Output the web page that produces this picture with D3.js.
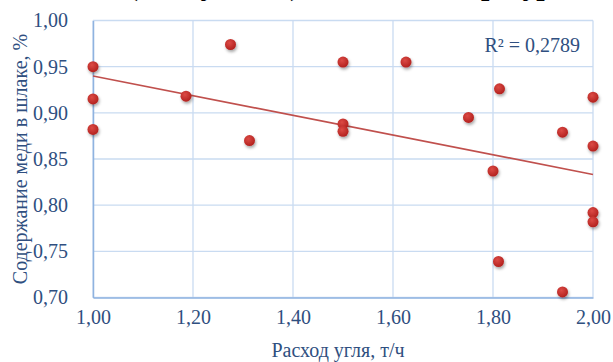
<!DOCTYPE html>
<html>
<head>
<meta charset="utf-8">
<script src="https://cdn.jsdelivr.net/npm/d3@7/dist/d3.min.js"></script>
<style>
  html, body { margin: 0; padding: 0; background: #fff; }
  svg { display: block; }
  svg text { font-family: "Liberation Serif", "Times New Roman", serif; }
</style>
</head>
<body>
<svg id="chart" width="613" height="362"></svg>
<script>
// Coal consumption (t/h) vs copper content in slag (%)
const coalRate = [1.00, 1.00, 1.00, 1.275, 1.186, 1.313, 1.50, 1.50, 1.50, 1.626,
                  1.813, 2.00, 1.751, 1.939, 2.00, 1.80, 2.00, 2.00, 1.811, 1.939];
const copperInSlag = [0.950, 0.915, 0.882, 0.974, 0.918, 0.870, 0.955, 0.888, 0.880, 0.955,
                      0.926, 0.917, 0.895, 0.879, 0.864, 0.837, 0.792, 0.782, 0.739, 0.706];
const xTicks = [1.00, 1.20, 1.40, 1.60, 1.80, 2.00];
const yTicks = [0.70, 0.75, 0.80, 0.85, 0.90, 0.95, 1.00];
const xTitle = "Расход угля, т/ч";
const yTitle = "Содержание меди в шлаке, %";
const r2Label = "R² = 0,2789";
const headerParts = ["(по углю)", "от температуры"];

const svg = d3.select("#chart");
const margin = { left: 93, right: 20, top: 20.5, bottom: 64.5 };
const W = 613, H = 362;

const x = d3.scaleLinear().domain([1.0, 2.0]).range([margin.left, W - margin.right]);
const y = d3.scaleLinear().domain([0.70, 1.00]).range([H - margin.bottom, margin.top]);

const fmt = d => d.toFixed(2).replace(".", ",");
const serif = "'Liberation Serif', 'Times New Roman', serif";
const labelColor = "#2f4f80";

// header line above the plot, mostly outside the visible area
const header = svg.append("g")
  .style("font-family", serif).style("font-size", "30px").style("font-weight", "bold");
header.append("text").attr("x", 128).attr("y", -5.5)
  .attr("textLength", 172).attr("lengthAdjust", "spacing").text(headerParts[0]);
header.append("text").attr("x", 375).attr("y", -5.5)
  .attr("textLength", 200).attr("lengthAdjust", "spacing").text(headerParts[1]);

const defs = svg.append("defs");
const grad = defs.append("radialGradient").attr("id", "dotFill")
  .attr("cx", "40%").attr("cy", "35%").attr("r", "65%");
grad.append("stop").attr("offset", "0%").attr("stop-color", "#dc4a45");
grad.append("stop").attr("offset", "100%").attr("stop-color", "#b3221f");
const shadow = defs.append("filter").attr("id", "dotShadow")
  .attr("x", "-50%").attr("y", "-50%").attr("width", "200%").attr("height", "200%");
shadow.append("feDropShadow").attr("dx", 1).attr("dy", 2).attr("stdDeviation", 1.4)
  .attr("flood-color", "#000").attr("flood-opacity", 0.35);

// gridlines
const grid = svg.append("g");
grid.selectAll("line.h").data(yTicks).join("line")
  .attr("x1", x(1.0)).attr("x2", x(2.0))
  .attr("y1", d => y(d)).attr("y2", d => y(d))
  .attr("stroke", "#c9dbf1").attr("stroke-width", 1.3);
grid.selectAll("line.v").data(xTicks).join("line")
  .attr("y1", y(0.70)).attr("y2", y(1.00))
  .attr("x1", d => x(d)).attr("x2", d => x(d))
  .attr("stroke", "#c9dbf1").attr("stroke-width", 1.3);

// axes
const xAxis = d3.axisBottom(x).tickValues(xTicks).tickFormat(fmt).tickSize(0).tickPadding(12);
const yAxis = d3.axisLeft(y).tickValues(yTicks).tickFormat(fmt).tickSize(0).tickPadding(30);

const gx = svg.append("g").attr("transform", `translate(0,${y(0.70)})`).call(xAxis);
const gy = svg.append("g").attr("transform", `translate(${x(1.0)},0)`).call(yAxis);
[gx, gy].forEach(g => {
  g.attr("font-family", null).attr("font-size", null);
  g.select(".domain").attr("stroke", "#8fb3e0").attr("stroke-width", 1.5);
  g.selectAll("text").style("font-family", serif).style("font-size", "20px").attr("fill", labelColor);
});
gy.selectAll("text").attr("text-anchor", "start").attr("x", -60);

// linear trend computed from the data
const mx = d3.mean(coalRate), my = d3.mean(copperInSlag);
const sxy = d3.sum(coalRate, (v, i) => (v - mx) * (copperInSlag[i] - my));
const sxx = d3.sum(coalRate, v => (v - mx) ** 2);
const slope = sxy / sxx, intercept = my - slope * mx;
const trend = [1.0, 2.0].map(v => [v, intercept + slope * v]);
svg.append("path")
  .attr("d", d3.line().x(d => x(d[0])).y(d => y(d[1]))(trend))
  .attr("fill", "none").attr("stroke", "#c0504d").attr("stroke-width", 1.6);

// points
svg.append("g").selectAll("circle")
  .data(coalRate.map((v, i) => [v, copperInSlag[i]]))
  .join("circle")
  .attr("cx", d => x(d[0])).attr("cy", d => y(d[1])).attr("r", 5.5)
  .attr("fill", "url(#dotFill)").attr("filter", "url(#dotShadow)");

// R² annotation
svg.append("text")
  .attr("x", 580).attr("y", 52).attr("text-anchor", "end")
  .style("font-family", serif).style("font-size", "20px").attr("fill", labelColor)
  .text(r2Label);

// axis titles
svg.append("text")
  .attr("x", 338).attr("y", 357).attr("text-anchor", "middle")
  .style("font-family", serif).style("font-size", "20px").attr("fill", labelColor)
  .text(xTitle);
svg.append("text")
  .attr("transform", `translate(27,159) rotate(-90)`).attr("text-anchor", "middle")
  .style("font-family", serif).style("font-size", "20px").attr("fill", labelColor)
  .text(yTitle);
</script>
</body>
</html>
